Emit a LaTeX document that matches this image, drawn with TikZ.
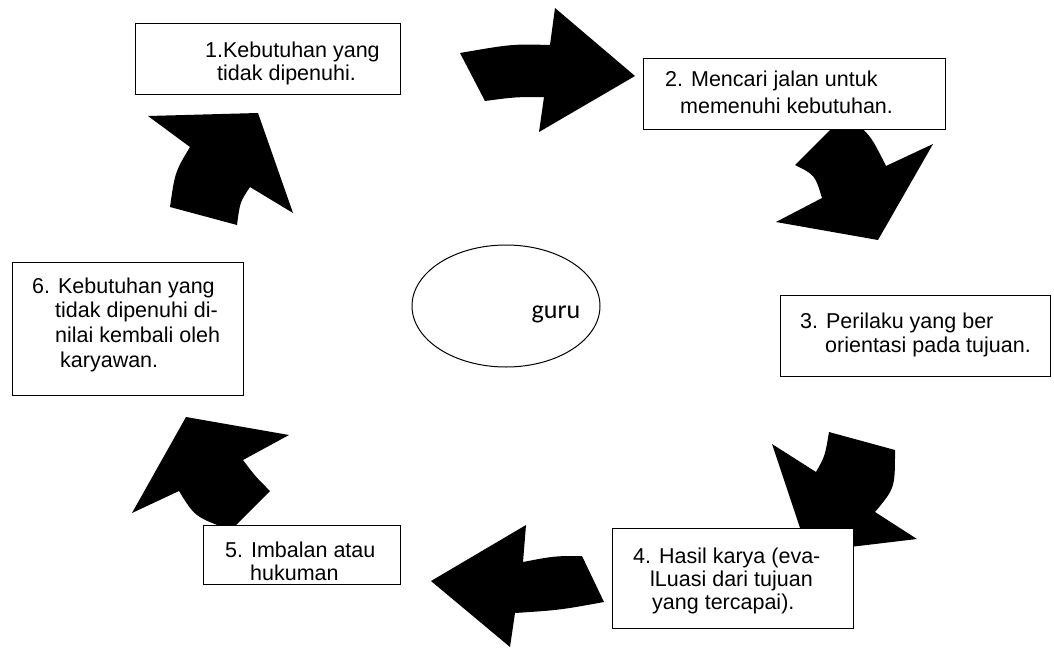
\documentclass[tikz,border=0pt]{standalone}
\usepackage{fontspec}
\setmainfont{Liberation Sans}
\newfontfamily\gurufont{Carlito}
\usetikzlibrary{positioning, shapes.geometric}
\tikzset{
  box/.style={draw, line width=1.4pt, fill=white, anchor=north west, inner sep=0pt},
  txt/.style={anchor=base west, inner sep=0pt, font=\fontsize{21.5}{24}\selectfont},
}

\begin{document}
\begin{tikzpicture}[x=1pt, y=-1pt, line join=miter]
        \useasboundingbox (0,0) rectangle (1054,648);
        % the six bent arrows, drawn first so the boxes cover their ends
        \fill (460,53) .. controls (512,44) .. (550,45) -- (555,8) -- (635,76) -- (539,132) -- (544,97) .. controls (515,97) .. (485,101) -- cycle;
        \fill (845,115) .. controls (870,134) .. (886,166) -- (933,144) -- (878,240) -- (776,222) -- (822,198) .. controls (815,175) .. (795,165) -- cycle;
        \fill (829,432) -- (895,450) .. controls (895,488) .. (875,512) -- (917,539) -- (808,552) -- (772,444) -- (816,472) .. controls (825,456) .. cycle;
        \fill (523,562) .. controls (554,556) .. (582,556) -- (604,602) .. controls (560,610) .. (515,613) -- (510,647) -- (431,581) -- (526,525) -- cycle;
        \fill (132,513) -- (186,417) -- (289,435) -- (243,460) .. controls (255,476) .. (270,491) -- (231,530) .. controls (195,517) .. (179,491) -- cycle;
        \fill (148,116) -- (258,113) -- (293,213) -- (250,187) .. controls (240,202) .. (237,225) -- (170,207) .. controls (175,172) .. (190,147) -- cycle;
        % centre
        \node[draw, line width=1pt, ellipse, minimum width=188pt, minimum height=122pt] (core) at (506,306) {};
        \node[anchor=base, inner sep=0pt, font=\gurufont\fontsize{26}{30}\selectfont] (coretxt) at (556,318) {guru};
        % boxes
        \node[box, minimum width=265pt, minimum height=71pt] (b1) at (135,23) {};
        \node[box, minimum width=302pt, minimum height=71pt] (b2) at (643,58) {};
        \node[box, minimum width=270pt, minimum height=81pt] (b3) at (780,295) {};
        \node[box, minimum width=241pt, minimum height=100pt] (b4) at (612,528) {};
        \node[box, minimum width=197pt, minimum height=59pt] (b5) at (203,525) {};
        \node[box, minimum width=231pt, minimum height=133pt] (b6) at (12,262) {};
        % texts
        \node[txt] (t1a) at (205,57) {1.Kebutuhan yang};
        \node[txt] (t1b) at (217,80) {tidak dipenuhi.};
        \node[txt] (t2a) at (665,86) {2. Mencari jalan untuk};
        \node[txt] (t2b) at (680,113) {memenuhi kebutuhan.};
        \node[txt] (t3a) at (800,328) {3. Perilaku yang ber};
        \node[txt] (t3b) at (825,352) {orientasi pada tujuan.};
        \node[txt] (t4a) at (633,563) {4. Hasil karya (eva-};
        \node[txt] (t4b) at (650,586) {lLuasi dari tujuan};
        \node[txt] (t4c) at (652,609) {yang tercapai).};
        \node[txt] (t5a) at (225,557) {5. Imbalan atau};
        \node[txt] (t5b) at (250,580) {hukuman};
        \node[txt] (t6a) at (32,293) {6. Kebutuhan yang};
        \node[txt] (t6b) at (55,317) {tidak dipenuhi di-};
        \node[txt] (t6c) at (55,342) {nilai kembali oleh};
        \node[txt] (t6d) at (60,367) {karyawan.};
\end{tikzpicture}
\end{document}
